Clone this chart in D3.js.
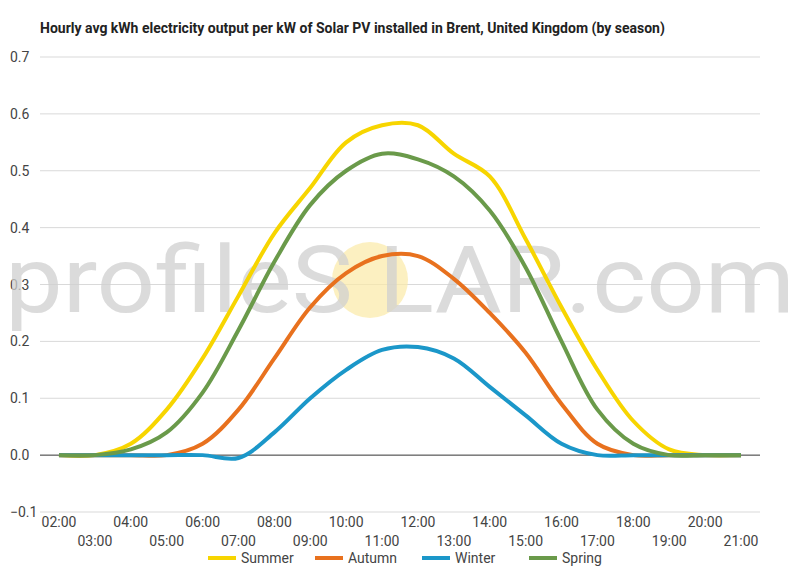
<!DOCTYPE html>
<html><head><meta charset="utf-8">
<script src="https://cdn.jsdelivr.net/npm/d3@7"></script>
<style>body{margin:0;background:#fff;font-family:Roboto,sans-serif}</style>
</head><body><svg id="c" width="800" height="570"></svg>
<script>
const hours = d3.range(2, 22);
const summer = [0,0,0.02,0.08,0.17,0.28,0.39,0.47,0.55,0.58,0.58,0.53,0.49,0.38,0.26,0.15,0.06,0.01,0,0];
const autumn = [0,0,0,0,0.02,0.08,0.17,0.26,0.32,0.35,0.35,0.31,0.25,0.18,0.09,0.02,0,0,0,0];
const winter = [0,0,0,0,0,-0.005,0.04,0.10,0.15,0.185,0.19,0.17,0.12,0.07,0.02,0,0,0,0,0];
const spring = [0,0,0.01,0.04,0.11,0.22,0.34,0.44,0.50,0.53,0.52,0.49,0.43,0.33,0.20,0.08,0.02,0,0,0];
const series = [
  {name:"Summer", values:summer, color:"#f7d500"},
  {name:"Autumn", values:autumn, color:"#e8711e"},
  {name:"Winter", values:winter, color:"#1b97c9"},
  {name:"Spring", values:spring, color:"#6a9a4a"}
];
const yTicks = [-0.1,0,0.1,0.2,0.3,0.4,0.5,0.6,0.7];

const svg = d3.select("#c");
const x = d3.scaleLinear().domain([2,21]).range([59,741]);
const y = d3.scaleLinear().domain([-0.1,0.7]).range([512,57]);

svg.append("text").attr("x",40).attr("y",33).attr("font-size",14).attr("font-weight","bold")
  .attr("fill","#222").text("Hourly avg kWh electricity output per kW of Solar PV installed in Brent, United Kingdom (by season)");

svg.selectAll("line.g").data(yTicks).join("line").attr("x1",40).attr("x2",760)
  .attr("y1",d=>y(d)).attr("y2",d=>y(d)).attr("stroke",d=>d===0?"#333":"#d9d9d9").attr("stroke-width",1);
svg.selectAll("text.yl").data(yTicks).join("text").attr("x",10).attr("y",d=>y(d)+5)
  .attr("font-size",14).attr("fill","#444").text(d=>d===0?"0.0":d3.format(".1f")(d));

// watermark
svg.append("circle").attr("cx",370).attr("cy",280).attr("r",38).attr("fill","#fbe9a6").attr("opacity",0.7);
svg.append("text").attr("x",400).attr("y",312).attr("text-anchor","middle").attr("font-size",92)
  .attr("textLength",790).attr("lengthAdjust","spacingAndGlyphs")
  .attr("fill","#d0d0d0").attr("opacity",0.75).text("profileS   LAR.com");

svg.selectAll("text.xl").data(hours).join("text")
  .attr("x",d=>x(d)).attr("y",d=>d%2===0?527:546).attr("text-anchor","middle")
  .attr("font-size",14).attr("fill","#444").text(d=>String(d).padStart(2,"0")+":00");

const line = d3.line().x((d,i)=>x(hours[i])).y(d=>y(d)).curve(d3.curveCatmullRom.alpha(0.5));
svg.selectAll("path.s").data(series).join("path").attr("fill","none")
  .attr("stroke",d=>d.color).attr("stroke-width",4).attr("stroke-linejoin","round")
  .attr("d",d=>line(d.values));

const lg = svg.selectAll("g.lg").data(series).join("g")
  .attr("transform",(d,i)=>`translate(${208+i*107},558)`);
lg.append("line").attr("x1",0).attr("x2",28).attr("stroke",d=>d.color).attr("stroke-width",4);
lg.append("text").attr("x",33).attr("y",5).attr("font-size",14).attr("fill","#444").text(d=>d.name);
</script></body></html>
